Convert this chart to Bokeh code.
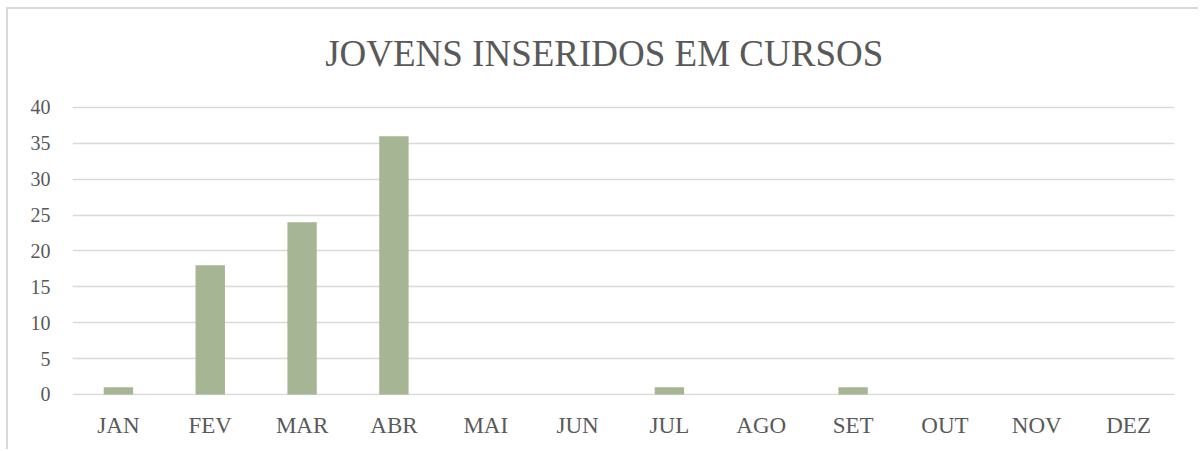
from bokeh.plotting import figure
from bokeh.models import FactorRange, Range1d, FixedTicker, Label
from bokeh.embed import file_html
from bokeh.resources import INLINE

months = ["JAN", "FEV", "MAR", "ABR", "MAI", "JUN", "JUL", "AGO", "SET", "OUT", "NOV", "DEZ"]
values = [1, 18, 24, 36, 0, 0, 1, 0, 1, 0, 0, 0]
y_ticks = [0, 5, 10, 15, 20, 25, 30, 35, 40]
title_text = "JOVENS INSERIDOS EM CURSOS"

FONT = "Liberation Serif"
TXT = "#595959"
GRID = "#D9D9D9"

# the frame spans the full height above the axis; the space above 40 holds the title
p = figure(
    x_range=FactorRange(*months, range_padding=0),
    y_range=Range1d(-0.15, 53.66),
    width=1192, height=442,
    output_backend="svg", toolbar_location=None,
    min_border_left=64, min_border_right=26,
    min_border_top=0, min_border_bottom=56,
)
p.styles = {"margin-left": "8px", "margin-top": "9px",
            "box-shadow": "-2px -2px 0 0 #D9D9D9"}

p.vbar(x=months, top=values, width=0.32, color="#A6B593", line_color=None)

title = Label(
    x=5.79, y=47.5,
    text=title_text, text_align="center", text_baseline="alphabetic",
    text_font=FONT, text_font_size="37px", text_color=TXT,
)
p.add_layout(title)

p.outline_line_color = None
p.xgrid.grid_line_color = None
p.ygrid.grid_line_color = GRID
p.ygrid.grid_line_width = 1.5
p.yaxis.ticker = FixedTicker(ticks=y_ticks)

for ax in (p.xaxis[0], p.yaxis[0]):
    ax.axis_line_color = None
    ax.major_tick_line_color = None
    ax.minor_tick_line_color = None
    ax.major_label_text_font = FONT
    ax.major_label_text_color = TXT

p.yaxis.major_label_text_font_size = "20px"
p.yaxis.major_label_standoff = 16
p.xaxis.major_label_text_font_size = "23px"
p.xaxis.major_label_standoff = 11

open("out.html", "w").write(file_html(p, INLINE))
